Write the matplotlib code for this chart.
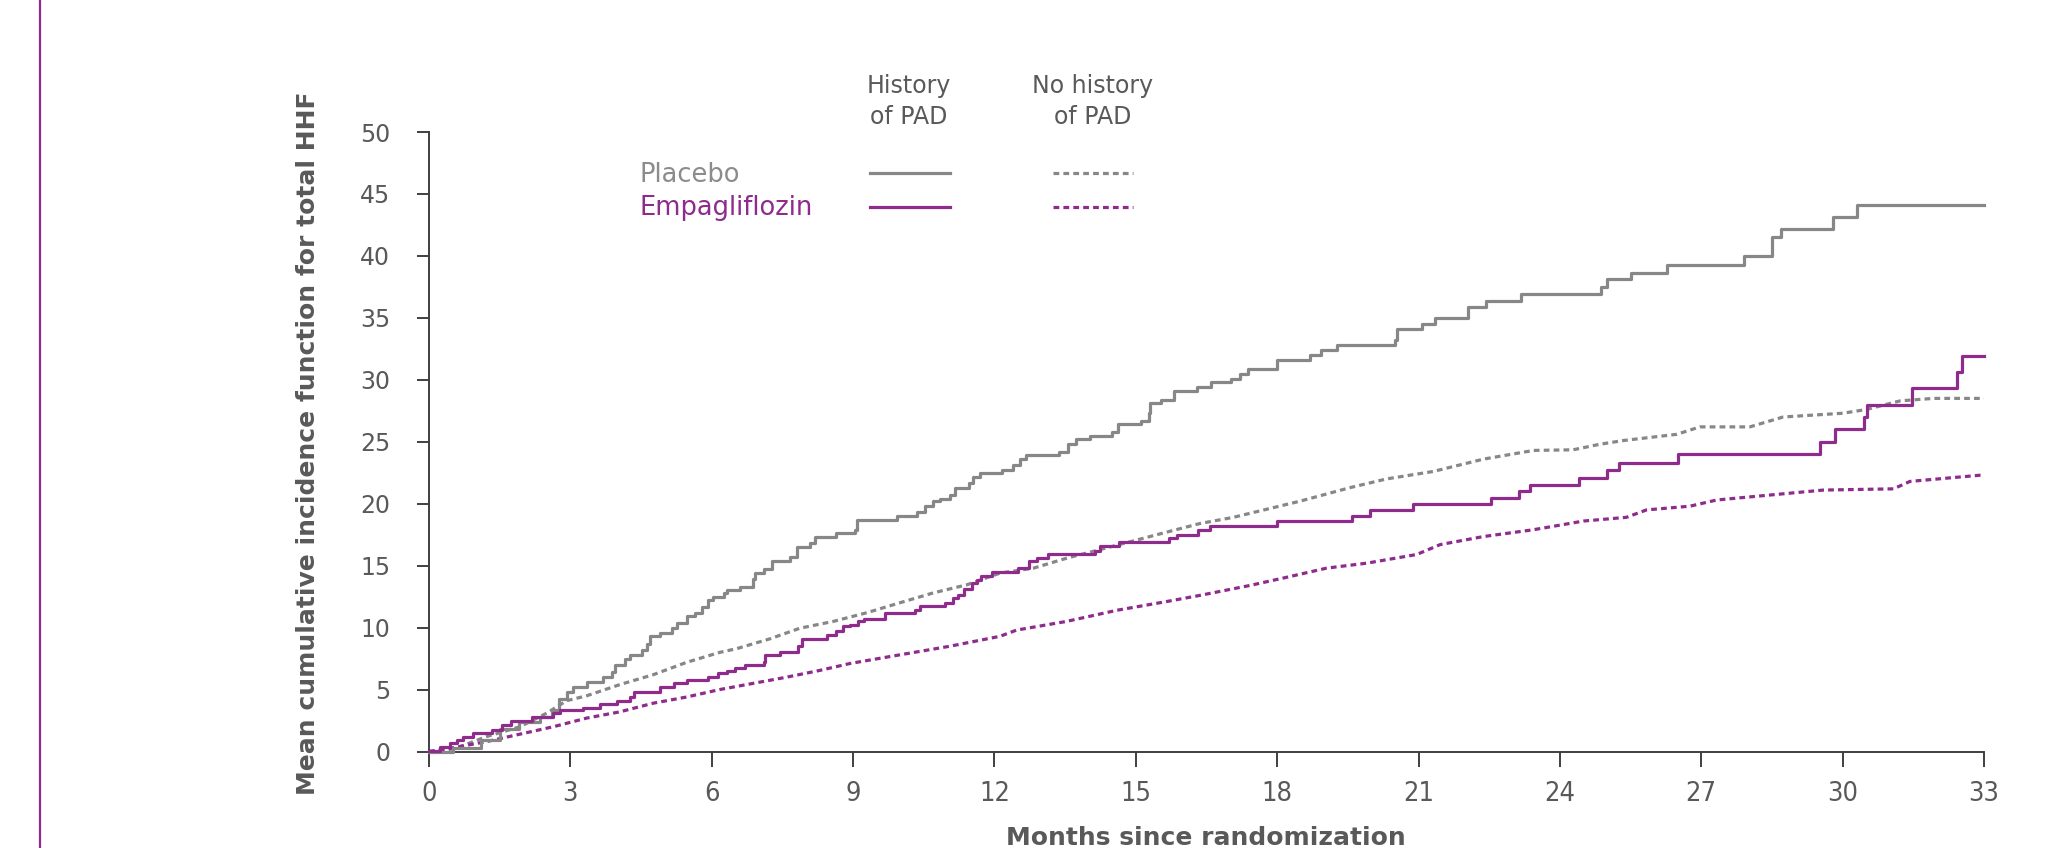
import matplotlib
matplotlib.use("Agg")
import matplotlib.pyplot as plt
from matplotlib.lines import Line2D

# ---- data (months, mean cumulative incidence) ----
# Placebo, history of PAD (solid grey step)
plc_pad_t = [0, 0.5, 1.1, 1.5, 1.9, 2.35, 2.6, 2.75, 2.92, 3.06,
             3.35, 3.7, 3.88, 3.95, 4.16, 4.27, 4.51, 4.62, 4.69, 4.9,
             5.15, 5.26, 5.47, 5.65, 5.79, 5.93, 6.03, 6.25, 6.32, 6.6,
             6.88, 6.92, 7.1, 7.27, 7.66, 7.8, 8.09, 8.19, 8.64, 9.04,
             9.08, 9.93, 10.35, 10.53, 10.7, 10.84, 11.06, 11.16, 11.45, 11.55,
             11.69, 12.15, 12.4, 12.54, 12.68, 13.36, 13.57, 13.74, 14.03, 14.49,
             14.63, 15.12, 15.27, 15.3, 15.53, 15.8, 16.29, 16.59, 17.03, 17.21,
             17.39, 17.99, 18.7, 18.92, 19.26, 20.5, 20.55, 21.07, 21.34, 22.06,
             22.43, 23.17, 24.87, 24.99, 25.5, 26.27, 27.9, 28.5, 28.7, 29.8,
             30.3, 33.0]
plc_pad_v = [0, 0.26, 0.9, 1.8, 2.4, 2.8, 3.35, 4.2, 4.8, 5.2,
             5.6, 6.0, 6.45, 7.0, 7.5, 7.8, 8.2, 8.7, 9.35, 9.6,
             9.95, 10.35, 10.9, 11.2, 11.7, 12.2, 12.5, 12.8, 13.05, 13.3,
             13.9, 14.4, 14.7, 15.4, 15.7, 16.5, 16.8, 17.3, 17.6, 17.9,
             18.7, 19.0, 19.3, 19.8, 20.2, 20.4, 20.7, 21.3, 21.7, 22.15,
             22.5, 22.7, 23.1, 23.6, 23.95, 24.2, 24.8, 25.2, 25.5, 25.75,
             26.4, 26.7, 27.3, 28.1, 28.4, 29.1, 29.4, 29.8, 30.1, 30.5,
             30.9, 31.6, 32.0, 32.4, 32.8, 33.2, 34.1, 34.5, 35.0, 35.9,
             36.4, 36.9, 37.5, 38.1, 38.6, 39.3, 40.0, 41.5, 42.2, 43.1,
             44.1, 44.1]

# Empagliflozin, history of PAD (solid purple step)
emp_pad_t = [0, 0.23, 0.45, 0.59, 0.73, 0.94, 1.33, 1.54, 1.75, 2.18,
             2.64, 2.78, 3.27, 3.63, 3.98, 4.27, 4.34, 4.9, 5.19, 5.47,
             5.93, 6.14, 6.32, 6.5, 6.7, 7.1, 7.13, 7.45, 7.84, 7.91,
             8.44, 8.64, 8.79, 8.93, 9.11, 9.23, 9.68, 10.31, 10.41, 10.96,
             11.11, 11.23, 11.35, 11.52, 11.62, 11.71, 11.94, 12.51, 12.74, 12.91,
             13.14, 14.13, 14.24, 14.65, 15.71, 15.87, 16.31, 16.57, 18.0, 19.58,
             19.97, 20.89, 22.54, 23.14, 23.37, 24.4, 25.0, 25.26, 26.5, 29.53,
             29.83, 30.45, 30.52, 31.47, 32.43, 32.53, 33.0]
emp_pad_v = [0.07, 0.4, 0.66, 0.93, 1.2, 1.47, 1.74, 2.14, 2.5, 2.8,
             3.1, 3.35, 3.55, 3.8, 4.1, 4.4, 4.8, 5.2, 5.5, 5.8,
             6.05, 6.3, 6.5, 6.7, 7.0, 7.25, 7.8, 8.05, 8.5, 9.05,
             9.4, 9.7, 10.1, 10.2, 10.5, 10.7, 11.2, 11.4, 11.75, 12.0,
             12.4, 12.6, 13.1, 13.6, 13.85, 14.2, 14.5, 14.8, 15.4, 15.65,
             15.9, 16.2, 16.55, 16.9, 17.2, 17.5, 17.9, 18.2, 18.6, 19.0,
             19.5, 20.0, 20.5, 21.0, 21.5, 22.1, 22.7, 23.3, 24.0, 25.0,
             26.0, 27.0, 28.0, 29.3, 30.6, 31.9, 31.9]

# Placebo, no history of PAD (dashed grey)
plc_nopad_t = [0, 0.52, 1.22, 1.93, 2.5, 2.92, 3.35, 4.05, 4.76, 5.47,
               6.17, 6.53, 7.24, 7.87, 8.58, 9.29, 9.99, 10.7, 11.41, 12.12,
               12.83, 13.53, 14.24, 14.95, 15.65, 16.36, 17.07, 18.48, 19.55, 20.32,
               21.31, 22.38, 23.44, 24.28, 24.85, 25.35, 26.48, 26.97, 28.03, 28.74,
               30.0, 30.5, 31.22, 31.93, 33.0]
plc_nopad_v = [0, 0.2, 1.2, 2.0, 3.1, 4.1, 4.5, 5.4, 6.2, 7.2,
               8.0, 8.3, 9.1, 9.95, 10.5, 11.2, 12.0, 12.8, 13.45, 14.4,
               14.8, 15.6, 16.3, 17.0, 17.7, 18.4, 18.9, 20.2, 21.3, 22.0,
               22.6, 23.6, 24.3, 24.35, 24.8, 25.1, 25.6, 26.2, 26.2, 27.0,
               27.3, 27.6, 28.3, 28.5, 28.5]

# Empagliflozin, no history of PAD (dashed purple)
emp_nopad_t = [0, 0.52, 1.22, 1.93, 2.64, 3.35, 4.05, 4.76, 5.47, 6.17,
               6.88, 7.59, 8.3, 8.93, 9.99, 11.06, 12.12, 12.47, 13.53, 14.6,
               15.65, 16.36, 17.42, 18.13, 19.05, 19.9, 20.96, 21.46, 22.38, 23.44,
               24.5, 25.41, 25.84, 26.76, 27.33, 28.74, 29.59, 31.08, 31.43, 32.92,
               33.0]
emp_nopad_v = [0, 0.3, 0.8, 1.4, 2.0, 2.7, 3.2, 3.9, 4.4, 5.0,
               5.5, 6.0, 6.55, 7.1, 7.8, 8.5, 9.3, 9.8, 10.5, 11.4,
               12.1, 12.6, 13.4, 14.0, 14.8, 15.2, 15.9, 16.7, 17.35, 17.9,
               18.6, 18.9, 19.5, 19.8, 20.3, 20.8, 21.1, 21.2, 21.8, 22.3,
               22.3]

x_ticks = list(range(0, 34, 3))
y_ticks = list(range(0, 51, 5))

GREY = "#878787"
PURPLE = "#8e2b8c"
TXT = "#595959"
AXC = "#3f3f3f"

W, H = 2071, 848
fig = plt.figure(figsize=(W / 100, H / 100), dpi=100)

def fx(px):
    return px / W

def fy(py):
    return 1 - py / H

ax = fig.add_axes([fx(429), fy(751.5), fx(1984) - fx(429), fy(132) - fy(751.5)])

lw = 2.3
dash = (1.8, 1.3)
ax.step(plc_pad_t, plc_pad_v, where="post", color=GREY, lw=lw, clip_on=False, zorder=3)
ax.step(emp_pad_t, emp_pad_v, where="post", color=PURPLE, lw=lw, clip_on=False, zorder=4)
ax.plot(plc_nopad_t, plc_nopad_v, color=GREY, lw=lw, dashes=dash, clip_on=False, zorder=2)
ax.plot(emp_nopad_t, emp_nopad_v, color=PURPLE, lw=lw, dashes=dash, clip_on=False, zorder=2)

ax.set_xlim(0, 33)
ax.set_ylim(0, 50)
ax.spines["top"].set_visible(False)
ax.spines["right"].set_visible(False)
for s in ("left", "bottom"):
    ax.spines[s].set_color(AXC)
    ax.spines[s].set_linewidth(1.4)

ax.set_xticks(x_ticks)
ax.set_yticks(y_ticks)
ax.tick_params(axis="y", direction="out", length=9, width=1.4, color=AXC,
               pad=19, labelsize=17, labelcolor=TXT)
ax.tick_params(axis="x", direction="out", length=11, width=1.4, color=AXC,
               pad=10, labelsize=19.5, labelcolor=TXT)
for lab in ax.get_xticklabels():
    lab.set_fontstretch("condensed")
    lab.set_fontweight("light")

# axis titles
fig.text(fx(308), fy(443), "Mean cumulative incidence function for total HHF",
         rotation=90, ha="center", va="center", fontsize=18, fontweight="bold", color=TXT)
fig.text(fx(1206), fy(845), "Months since randomization",
         ha="center", va="baseline", fontsize=18, fontweight="bold", color=TXT)

# legend block
for cx, l1 in ((909, "History"), (1093, "No history")):
    fig.text(fx(cx), fy(93), l1, ha="center", va="baseline", fontsize=17, color=TXT)
    fig.text(fx(cx), fy(124), "of PAD", ha="center", va="baseline", fontsize=17, color=TXT)

fig.text(fx(640), fy(182), "Placebo", ha="left", va="baseline", fontsize=18.5, color="#8c8c8c")
fig.text(fx(640), fy(215), "Empagliflozin", ha="left", va="baseline", fontsize=18.5, color=PURPLE)

for yy, col in ((173, GREY), (207, PURPLE)):
    fig.add_artist(Line2D([fx(870), fx(950)], [fy(yy), fy(yy)], color=col, lw=lw))
    fig.add_artist(Line2D([fx(1053), fx(1133)], [fy(yy), fy(yy)], color=col, lw=lw,
                          dashes=dash))

# purple page rule on the left
fig.add_artist(Line2D([fx(40), fx(40)], [0, 1], color=PURPLE, lw=1.6))

fig.savefig("out.png", dpi=100)
